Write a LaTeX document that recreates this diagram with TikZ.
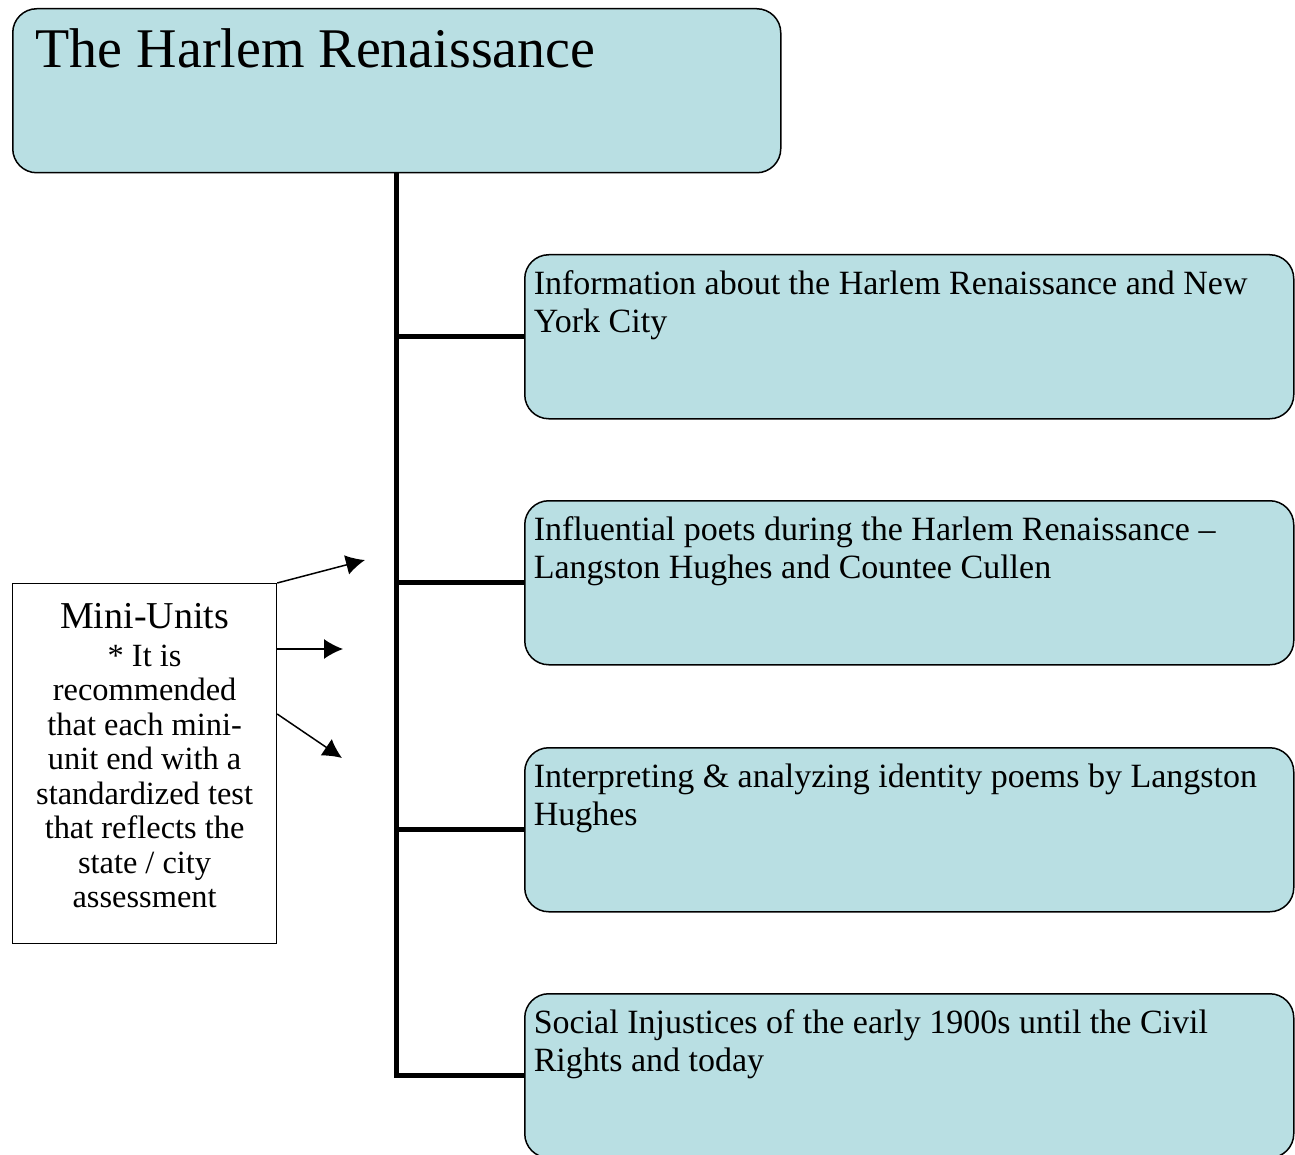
\documentclass[tikz,border=0pt]{standalone}
\usepackage{fontspec}
\setmainfont{Liberation Serif}
\usepackage{xcolor}
\usetikzlibrary{positioning,arrows,arrows.meta}
\definecolor{unitfill}{RGB}{185,223,227}
\newcommand\topictext[1]{\parbox[t][164pt][t]{751pt}{\raggedright\vspace*{13.75pt}\strut #1}}

\begin{document}
\begin{tikzpicture}[
		x=1pt, y=-1pt,
		topic/.style={
		  draw,
		  fill=unitfill,
		  rounded corners=24pt,
		  line width=1.5pt,
		  anchor=north west,
		  inner xsep=9pt,
		  inner ysep=0pt,
		  font=\fontsize{34}{37.5}\selectfont
		  },
		note/.style={
		  draw,
		  fill=white,
		  line width=1.2pt,
		  anchor=north west,
		  inner sep=0pt
		  },
		trunk/.style={
		  line width=5pt
		  },
		pointer/.style={
		  line width=1.5pt,
		  -{Latex[length=19pt,width=20pt]}
		  }
		]
		\useasboundingbox (0,0) rectangle (1295,1155);
		\node[topic, inner xsep=23pt, font=\fontsize{56}{67}\selectfont] (title) at (12,8)
		  {\parbox[t][164pt][t]{722pt}{\raggedright\vspace*{12pt}\strut The Harlem Renaissance}};
		\foreach \y/\txt [count=\i] in {
		  254/{Information about the Harlem Renaissance and New\\York City},
		  500/{Influential poets during the Harlem Renaissance --\\Langston Hughes and Countee Cullen},
		  747/{Interpreting \& analyzing identity poems by Langston\\Hughes},
		  993/{Social Injustices of the early 1900s until the Civil\\Rights and today}}
		  \node[topic] (unit\i) at (524,\y) {\topictext{\txt}};
		\foreach \i in {1,...,4}
		  \draw[trunk] (title.south) |- (unit\i.west);
		\node[note] (mini) at (12,583)
		  {\parbox[t][360pt][t]{264pt}{\centering\vspace*{14pt}
		   {\fontsize{38}{44}\selectfont\strut Mini-Units\par}
		   \vspace{2pt}
		   \fontsize{32.4}{34.5}\selectfont * It is\\recommended\\that each mini-\\unit end with a\\standardized test\\that reflects the\\state / city\\assessment\par}};
		\coordinate (tip1) at (365,560);
		\coordinate (tip2) at (343,649);
		\coordinate (tip3) at (342,758);
		\draw[pointer] (mini.north east) -- (tip1);
		\draw[pointer] ([yshift=-66pt]mini.north east) -- (tip2);
		\draw[pointer] ([yshift=-131pt]mini.north east) -- (tip3);
	\end{tikzpicture}
\end{document}
